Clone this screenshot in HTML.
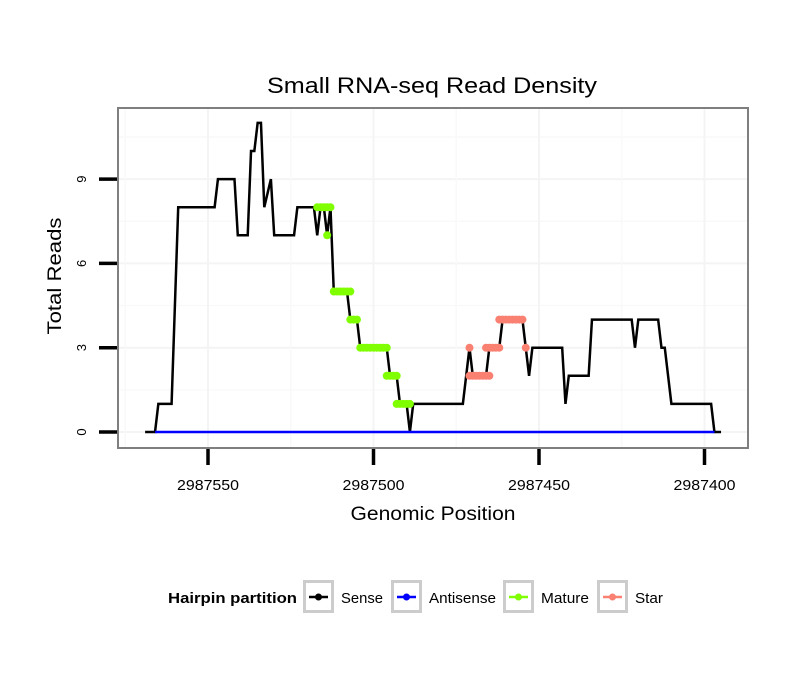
<!DOCTYPE html>
<html><head><meta charset="utf-8"><style>
body{margin:0;background:#fff;}
svg text{font-family:"Liberation Sans",Arial,sans-serif;}
</style></head><body>
<svg id="chart" width="810" height="690" xmlns="http://www.w3.org/2000/svg">
<rect width="810" height="690" fill="#fff"/>
<text x="432" y="93" font-size="22" text-anchor="middle" textLength="330" lengthAdjust="spacingAndGlyphs">Small RNA-seq Read Density</text>
<g id="grid"></g>
<g id="series"></g>
<rect x="118" y="108" width="630" height="340" fill="none" stroke="#7f7f7f" stroke-width="2"/>
<g id="axes"></g>
<text x="433" y="520" font-size="19" text-anchor="middle" textLength="165" lengthAdjust="spacingAndGlyphs">Genomic Position</text>
<text transform="translate(61,276) rotate(-90)" font-size="19" text-anchor="middle" textLength="117" lengthAdjust="spacingAndGlyphs">Total Reads</text>
<g id="legend"></g>
</svg>
<script>
const senseX=[2987569,2987566,2987565,2987561,2987559,2987548,2987547,2987542,2987541,2987538,2987537,2987536,2987535,2987534,2987533,2987531,2987530,2987524,2987523,2987518,2987517,2987516,2987515,2987514,2987513,2987512,2987508,2987507,2987505,2987504,2987496,2987495,2987493,2987492,2987490,2987489,2987488,2987473,2987471,2987470,2987466,2987465,2987462,2987461,2987455,2987454,2987453,2987452,2987443,2987442,2987441,2987435,2987434,2987422,2987421,2987420,2987414,2987413,2987412,2987410,2987398,2987397,2987395];
const senseY=[0,0,1,1,8,8,9,9,7,7,10,10,11,11,8,9,7,7,8,8,7,8,8,7,8,5,5,4,4,3,3,2,2,1,1,0,1,1,3,2,2,3,3,4,4,3,2,3,3,1,2,2,4,4,3,4,4,3,3,1,1,0,0];
const antisenseX=[2987566,2987397];
const antisenseY=[0,0];
const matureStart=[2987517,2987514,2987512,2987507,2987504,2987496,2987493];
const matureEnd=[2987513,2987514,2987507,2987505,2987496,2987493,2987489];
const matureVal=[8,7,5,4,3,2,1];
const starStart=[2987471,2987471,2987466,2987462,2987454];
const starEnd=[2987471,2987465,2987462,2987455,2987454];
const starVal=[3,2,3,4,3];
const xTicks=[2987550,2987500,2987450,2987400];
const yTicks=[0,3,6,9];

const NS="http://www.w3.org/2000/svg";
function xs(g){return 208+(2987550-g)*165.5/50;}
function ys(v){return 432-v*28.1;}
function mk(tag,attrs,parent){const e=document.createElementNS(NS,tag);for(const k in attrs)e.setAttribute(k,attrs[k]);parent.appendChild(e);return e;}
const grid=document.getElementById('grid'),ser=document.getElementById('series'),axes=document.getElementById('axes'),leg=document.getElementById('legend');
for(let i=0;i<yTicks.length;i++){
 const l=mk('line',{x1:118,x2:748,y1:ys(yTicks[i]),y2:ys(yTicks[i]),stroke:'#f4f4f4','stroke-width':2},grid);
 
 
 const m=mk('line',{x1:118,x2:748,y1:ys(yTicks[i]+1.5),y2:ys(yTicks[i]+1.5),stroke:'#f9f9f9','stroke-width':1.5},grid);
 
 
}
for(let i=0;i<xTicks.length;i++){
 const l=mk('line',{x1:xs(xTicks[i]),x2:xs(xTicks[i]),y1:108,y2:448,stroke:'#f4f4f4','stroke-width':2},grid);
 
 
 const m=mk('line',{x1:xs(xTicks[i]+25),x2:xs(xTicks[i]+25),y1:108,y2:448,stroke:'#f9f9f9','stroke-width':1.5},grid);
 
 
}
const sp=mk('polyline',{points:senseX.map((g,i)=>xs(g)+','+ys(senseY[i])).join(' '),fill:'none',stroke:'#000','stroke-width':2.5,'stroke-linejoin':'miter'},ser);


const ap=mk('polyline',{points:antisenseX.map((g,i)=>xs(g)+','+ys(antisenseY[i])).join(' '),fill:'none',stroke:'#0000ff','stroke-width':2.5},ser);


function pts(starts,ends,vals,color,name){
 for(let i=0;i<starts.length;i++){
  for(let g=starts[i];g>=ends[i];g--){
   const c=mk('circle',{cx:xs(g),cy:ys(vals[i]),r:4,fill:color},ser);
   
   
  }
 }
}
pts(matureStart,matureEnd,matureVal,'#7fff00','mature-point');
pts(starStart,starEnd,starVal,'#fa8072','star-point');
for(let i=0;i<yTicks.length;i++){
 const t=mk('line',{x1:99,x2:117,y1:ys(yTicks[i]),y2:ys(yTicks[i]),stroke:'#000','stroke-width':3.5},axes);
 
 
 const tx=mk('text',{transform:'translate(86,'+ys(yTicks[i])+') rotate(-90)','font-size':13,'text-anchor':'middle'},axes);
 tx.textContent=yTicks[i];
 
 
}
for(let i=0;i<xTicks.length;i++){
 const t=mk('line',{x1:xs(xTicks[i]),x2:xs(xTicks[i]),y1:449,y2:465,stroke:'#000','stroke-width':3.5},axes);
 
 
 const tx=mk('text',{x:xs(xTicks[i]),y:490,'font-size':15,'text-anchor':'middle',textLength:62,lengthAdjust:'spacingAndGlyphs'},axes);
 tx.textContent=xTicks[i];
 
 
}
const lt=mk('text',{x:168,y:603,'font-size':15,'font-weight':'bold',textLength:129,lengthAdjust:'spacingAndGlyphs'},leg);
lt.textContent='Hairpin partition';


const legNames=['Sense','Antisense','Mature','Star'];
const legColors=['#000','#0000ff','#7fff00','#fa8072'];
const legBoxX=[303,391,503,597];
const legTextW=[42,67,48,28];
for(let i=0;i<legNames.length;i++){
 const g=mk('g',{},leg);
 
 
 mk('rect',{x:legBoxX[i]+1.5,y:581.5,width:28,height:30,fill:'#fff',stroke:'#cccccc','stroke-width':3},g);
 mk('line',{x1:legBoxX[i]+6,x2:legBoxX[i]+25,y1:597,y2:597,stroke:legColors[i],'stroke-width':2.5},g);
 mk('circle',{cx:legBoxX[i]+15.5,cy:597,r:3.5,fill:legColors[i]},g);
 const tx=mk('text',{x:legBoxX[i]+38,y:603,'font-size':15,textLength:legTextW[i],lengthAdjust:'spacingAndGlyphs'},g);
 tx.textContent=legNames[i];
}
</script>
</body></html>
